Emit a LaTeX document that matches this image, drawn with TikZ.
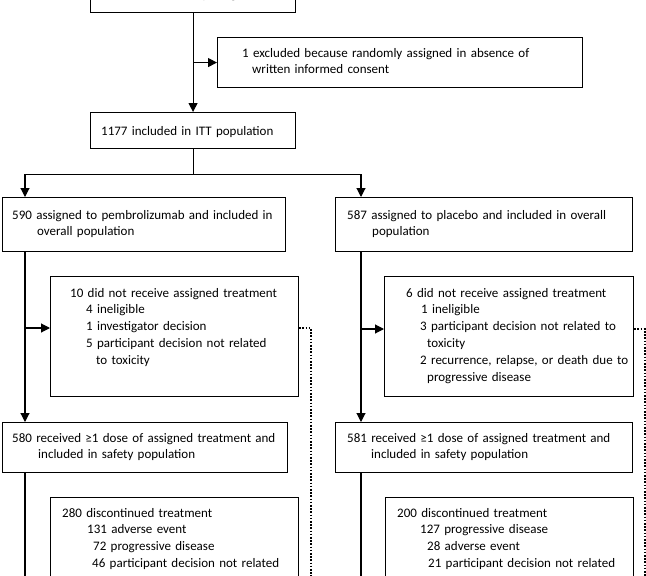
\documentclass[tikz,border=0pt]{standalone}
\usepackage{fontspec}
\setmainfont{Carlito}
\usetikzlibrary{arrows.meta,calc}
\begin{document}
\begin{tikzpicture}[x=1pt,y=-1pt,
  box/.style={draw, line width=1.1pt, inner sep=0pt, anchor=north west},
  txt/.style={anchor=base west, inner sep=0pt, align=left, text width=330pt, font=\fontsize{13}{16.8}\selectfont},
  arr/.style={-{Triangle[length=9pt,width=9pt]}, line width=1.1pt},
  ln/.style={line width=1.1pt},
  dotln/.style={line width=1.1pt, dash pattern=on 1.6pt off 1.6pt}]
\useasboundingbox (0,0) rectangle (646,576);
\clip (0,0) rectangle (646,576);
% boxes
\node[box, minimum width=205pt, minimum height=52pt] (top) at (90,-40) {};
\node[box, minimum width=365pt, minimum height=50pt] (excl) at (217,37) {};
\node[box, minimum width=205pt, minimum height=36pt] (itt) at (90,112) {};
\node[box, minimum width=283pt, minimum height=54pt] (pem) at (2,197) {};
\node[box, minimum width=297pt, minimum height=54pt] (plac) at (335,197) {};
\node[box, minimum width=248pt, minimum height=120pt] (ex10) at (50,276) {};
\node[box, minimum width=249pt, minimum height=120pt] (ex6) at (384,276) {};
\node[box, minimum width=285pt, minimum height=50pt] (saf580) at (2,422) {};
\node[box, minimum width=297pt, minimum height=50pt] (saf581) at (335,422) {};
\node[box, minimum width=248pt, minimum height=130pt] (disc280) at (50,497) {};
\node[box, minimum width=248pt, minimum height=130pt] (disc200) at (385,497) {};
% texts
\node[anchor=base, inner sep=0pt, font=\fontsize{13}{16.8}\selectfont] (ttop) at (192.5,-1.5) {1178 randomly assigned};
\node[txt] (texcl) at (242,57) {1 excluded because randomly assigned in absence of\\\hspace*{10pt}written informed consent};
\node[txt] (titt) at (101,135) {1177 included in ITT population};
\node[txt] (tpem) at (12,219) {590 assigned to pembrolizumab and included in\\\hspace*{25pt}overall population};
\node[txt] (tplac) at (347,219) {587 assigned to placebo and included in overall\\\hspace*{25pt}population};
\node[txt] (tex10) at (70,297) {10 did not receive assigned treatment\\\hspace*{16pt}4 ineligible\\\hspace*{16pt}1 investigator decision\\\hspace*{16pt}5 participant decision not related\\\hspace*{26pt}to toxicity};
\node[txt] (tex6) at (406,297) {6 did not receive assigned treatment\\\hspace*{15pt}1 ineligible\\\hspace*{14pt}3 participant decision not related to\\\hspace*{21pt}toxicity\\\hspace*{14pt}2 recurrence, relapse, or death due to\\\hspace*{21pt}progressive disease};
\node[txt] (tsaf580) at (12,442) {580 received ≥1 dose of assigned treatment and\\\hspace*{26pt}included in safety population};
\node[txt] (tsaf581) at (347,442) {581 received ≥1 dose of assigned treatment and\\\hspace*{24pt}included in safety population};
\node[txt] (tdisc280) at (62,517) {280 discontinued treatment\\\hspace*{25pt}131 adverse event\\\hspace*{31pt}72 progressive disease\\\hspace*{30pt}46 participant decision not related};
\node[txt] (tdisc200) at (397,517) {200 discontinued treatment\\\hspace*{23pt}127 progressive disease\\\hspace*{30pt}28 adverse event\\\hspace*{31pt}21 participant decision not related};
% connectors
\draw[arr] (top.south) -- (itt.north);
\coordinate (j1) at (top.south |- excl.west);
\draw[arr] (j1) -- (excl.west);
\coordinate (split) at ($(itt.south)+(0,25)$);
\coordinate (lt) at (25,197);
\coordinate (rt) at (361,197);
\draw[ln] (itt.south) -- (split);
\draw[arr] (split) -| (lt);
\draw[arr] (split) -| (rt);
% left arm
\draw[arr] (pem.south -| lt) -- (saf580.north -| lt);
\coordinate (b10) at (25,328);
\draw[arr] (b10) -- (b10 -| ex10.west);
\coordinate (d10) at (311,328);
\coordinate (d10e) at (311,600);
\draw[dotln] (ex10.east |- b10) -- (d10) -- (d10e);
\coordinate (lend) at (25,600);
\draw[ln] (saf580.south -| lt) -- (lend);
% right arm
\draw[arr] (plac.south -| rt) -- (saf581.north -| rt);
\coordinate (b6) at (361,329);
\draw[arr] (b6) -- (b6 -| ex6.west);
\coordinate (d6) at (645,329);
\coordinate (d6e) at (645,600);
\draw[dotln] (ex6.east |- b6) -- (d6) -- (d6e);
\coordinate (rend) at (361,600);
\draw[ln] (saf581.south -| rt) -- (rend);
\end{tikzpicture}
\end{document}
